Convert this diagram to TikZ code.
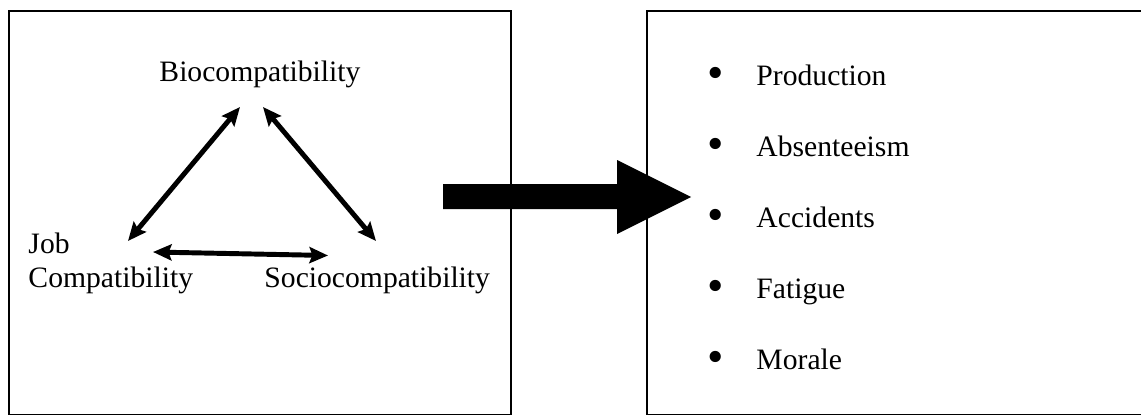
\documentclass[tikz,border=0pt]{standalone}
\usepackage{fontspec}
\setmainfont{Liberation Serif}
\usetikzlibrary{arrows.meta}

\begin{document}
\begin{tikzpicture}[x=0.405pt,y=-0.405pt,
	every node/.style={inner sep=0pt,font=\fontsize{12}{13.4}\selectfont},
	link/.style={line width=2pt,{Stealth[length=7.5pt,width=6.5pt,inset=1.2pt]}-{Stealth[length=7.5pt,width=6.5pt,inset=1.2pt]}},
	panel/.style={draw,line width=0.6pt},
	dot/.style={font=\fontsize{19}{19}\selectfont}]
	\useasboundingbox (0,0) rectangle (1141,416);
	\draw[panel] (9,11) rectangle (511,414.5);
	\draw[panel] (647,11) rectangle (1150,414.5);
	\node[anchor=base west] (bio) at (159,82) {Biocompatibility};
	\node[anchor=base west,align=left] (job) at (28,287) {Job\\Compatibility};
	\node[anchor=base west] (soc) at (264,287) {Sociocompatibility};
	\coordinate (bj) at (240,107);
	\coordinate (bs) at (263,107);
	\coordinate (jb) at (128,241);
	\coordinate (sb) at (376,241);
	\coordinate (js) at (153,252);
	\coordinate (sj) at (328,255.5);
	\draw[link] (bj) -- (jb);
	\draw[link] (bs) -- (sb);
	\draw[link] (js) -- (sj);
	\fill (443,184) -- (617,184) -- (617,160) -- (691,197) -- (617,234) -- (617,209) -- (443,209) -- cycle;
	\foreach \txt [count=\i] in {Production,Absenteeism,Accidents,Fatigue,Morale} {
		\node[anchor=base west] (t\i) at (756,13.8+71.2*\i) {\txt};
		\node[dot] (d\i) at (716,6.3+71.2*\i) {\textbullet};
	}
\end{tikzpicture}
\end{document}
